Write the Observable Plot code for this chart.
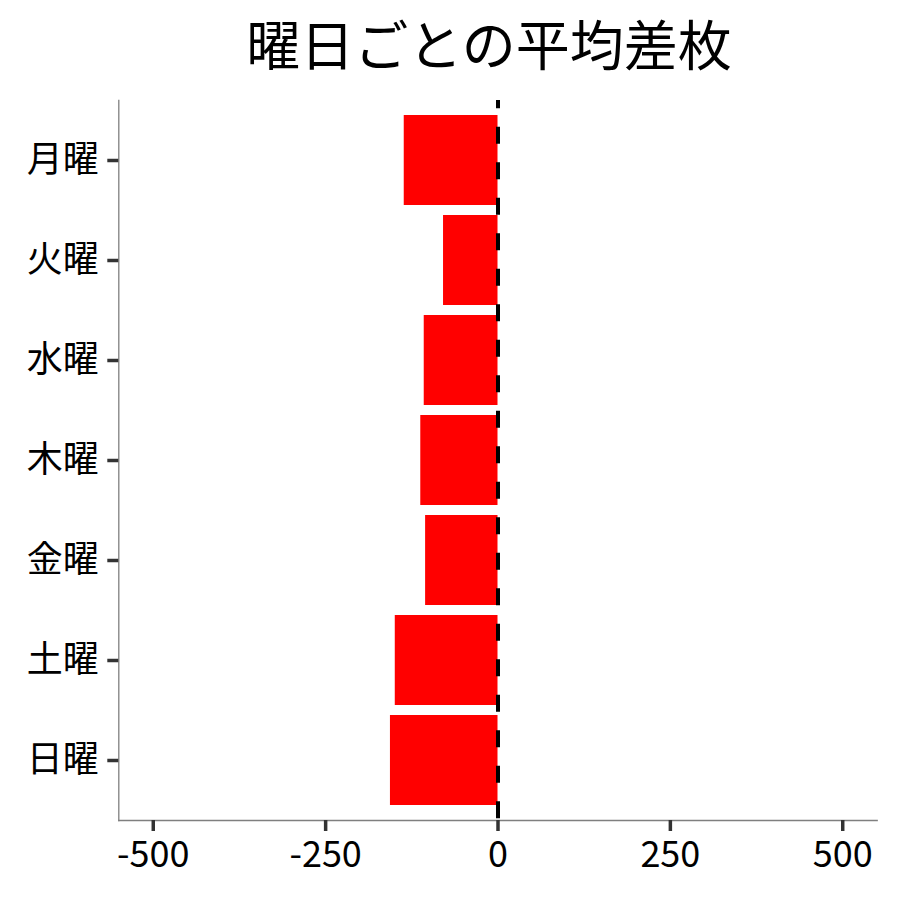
<!DOCTYPE html>
<html>
<head>
<meta charset="utf-8">
<script src="https://cdn.jsdelivr.net/npm/d3@7"></script>
<script src="https://cdn.jsdelivr.net/npm/@observablehq/plot@0.6"></script>
<style>
  html, body { margin: 0; padding: 0; background: #fff; }
</style>
</head>
<body>
<div id="chart"></div>
<script>
const titleText = "曜日ごとの平均差枚";
const days = ["月曜", "火曜", "水曜", "木曜", "金曜", "土曜", "日曜"];
const avgDiff = [-136, -79, -107, -112, -105, -149, -156];
const xTicks = [-500, -250, 0, 250, 500];
const xDomain = [-550, 550];

const data = days.map((d, i) => ({day: days[i], value: avgDiff[i]}));
const font = "'Noto Sans CJK JP', 'Noto Sans', sans-serif";

const chart = Plot.plot({
  width: 900,
  height: 900,
  marginTop: 100,
  marginBottom: 80,
  marginLeft: 118.3,
  marginRight: 23.3,
  style: {fontFamily: font, background: "#fff"},
  x: {domain: xDomain, nice: false, ticks: xTicks},
  y: {domain: days, paddingInner: 0.1, paddingOuter: 0.15, align: 0.5},
  marks: [
    Plot.barX(data, {x: "value", y: "day", fill: "#ff0000"}),
    Plot.ruleX([0], {stroke: "#000", strokeWidth: 4, strokeDasharray: "17,18.5", strokeDashoffset: 8.8}),
    Plot.frame({anchor: "left", stroke: "#7f7f7f", strokeWidth: 1.3}),
    Plot.frame({anchor: "bottom", stroke: "#7f7f7f", strokeWidth: 1.3}),
    Plot.axisY({tickSize: 11, tickPadding: 9, fontSize: 36, stroke: "#333", strokeWidth: 3.5, fill: "#000", label: null}),
    Plot.axisX({ticks: xTicks, tickSize: 11, tickPadding: 10, fontSize: 36, stroke: "#333", strokeWidth: 3.5, fill: "#000", label: null, tickFormat: d => `${d}`}),
    Plot.text([titleText], {frameAnchor: "top", lineAnchor: "middle", dy: -52, dx: -9, fontSize: 54, fill: "#000", fontFamily: font})
  ]
});
document.getElementById("chart").appendChild(chart);
</script>
</body>
</html>
